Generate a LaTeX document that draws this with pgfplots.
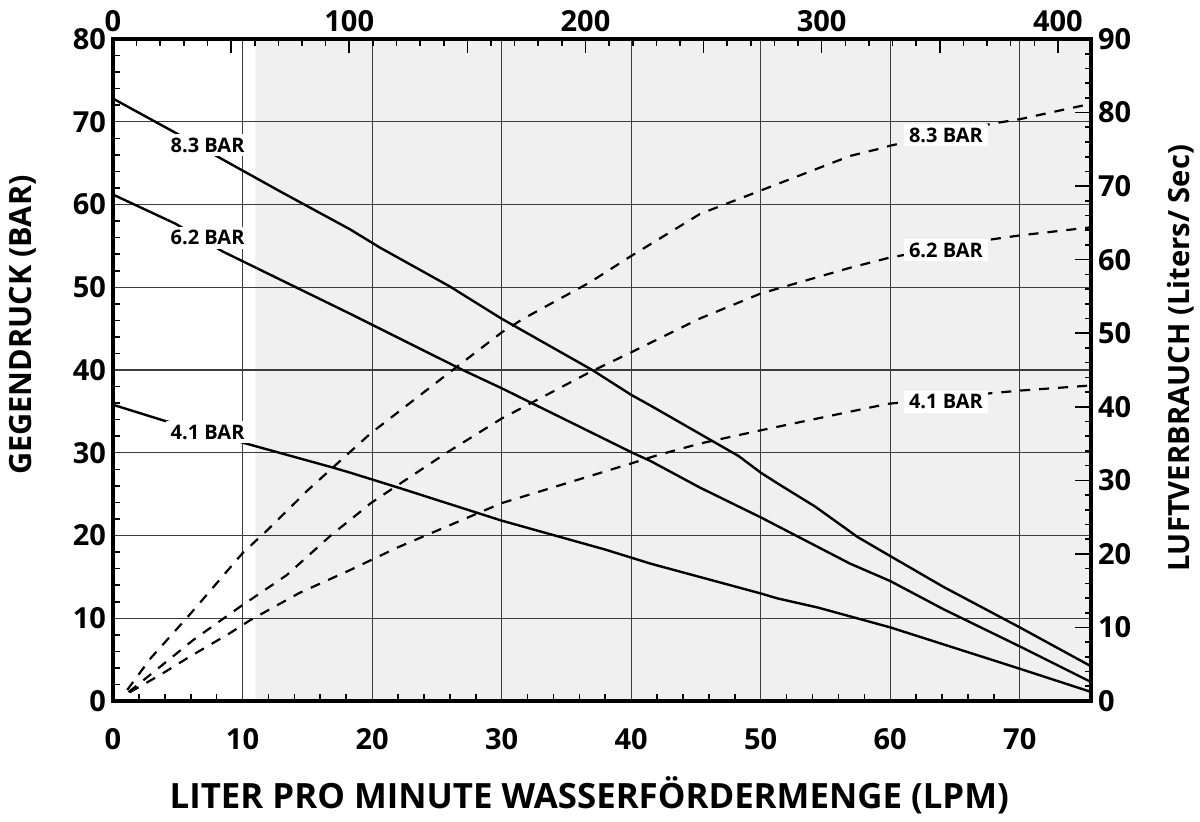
\documentclass[border=0pt]{standalone}
\usepackage{fontspec}
\setmainfont{Open Sans}
\usepackage{pgfplots}
\pgfplotsset{compat=1.18}
\definecolor{bgshade}{HTML}{F0F0F0}
\definecolor{gridc}{HTML}{3C3C3C}
\begin{document}
\begin{tikzpicture}
\tikzset{
  barlabel/.style={fill=white, inner xsep=2.5pt, inner ysep=1.8pt, font=\fontsize{10}{11}\selectfont\bfseries},
}
\pgfplotsset{
  set layers,
  every axis/.append style={
    scale only axis, width=489pt, height=331pt,
    axis line style={line width=1.8pt},
    tick style={black, line width=0.8pt},
    tick align=inside,
    tick label style={font=\fontsize{14.5}{16}\selectfont\bfseries\boldmath},
    /pgf/number format/assume math mode=true,
  },
  solid curve/.style={black, line width=1.2pt, no marks},
  air curve/.style={black, line width=1.1pt, no marks, dash pattern=on 5pt off 4.5pt},
}
% left axis: back pressure
\begin{axis}[
  name=main,
  xmin=0, xmax=75.5, ymin=0, ymax=80,
  xtick={0,10,...,70}, ytick={0,10,...,80},
  minor x tick num=4, minor y tick num=4,
  xtick pos=left, ytick pos=left,
  major tick length=0pt, minor tick length=3.5pt,
  grid=major, major grid style={gridc, line width=0.55pt},
  xticklabel style={yshift=-10pt},
  xlabel={LITER PRO MINUTE WASSERFÖRDERMENGE (LPM)},
  xlabel style={at={(axis description cs:0.487,-0.143)}, anchor=center, font=\fontsize{17.4}{19}\selectfont\bfseries},
  ylabel={GEGENDRUCK (BAR)},
  ylabel style={at={(axis description cs:-0.092,0.568)}, anchor=center, font=\fontsize{15.3}{17}\selectfont\bfseries},
]
\addplot[fill=bgshade, draw=none, on layer=axis background] coordinates {(11,0) (75.5,0) (75.5,80) (11,80) (11,0)};
% 8.3 bar
\addplot[solid curve] coordinates {(0,72.8) (4.9,68.6) (8.4,65.5) (13,61.5) (18.3,57.0) (20.6,54.8) (26,50.1) (30,46.2) (37,40) (40,37) (41.5,35.7) (48.3,29.6) (50,27.6) (51.3,26.3) (54.2,23.5) (57.5,19.8) (59.8,17.7) (64.1,13.8) (70,8.9) (75.5,4.2)};
% 6.2 bar
\addplot[solid curve] coordinates {(0,61.2) (4.8,57.7) (8.5,54.3) (18.3,46.8) (20.6,45.0) (27,40) (30,37.8) (40.1,30) (41.5,29.0) (45.3,25.8) (48.3,23.5) (50,22.2) (56.9,16.6) (60,14.5) (64.1,11.1) (70,6.6) (75.5,2.3)};
% 4.1 bar
\addplot[solid curve] coordinates {(0,35.8) (3.9,33.9) (10.3,31.1) (17,28.2) (18.3,27.6) (22.2,25.7) (30,21.8) (38,18.3) (41.5,16.6) (50,13.0) (51.3,12.4) (54.4,11.3) (60,8.9) (70,3.9) (75.5,1.1)};
\node[barlabel] at (axis cs:7.3,67.2) {8.3 BAR};
\node[barlabel] at (axis cs:7.3,56.0) {6.2 BAR};
\node[barlabel] at (axis cs:7.3,32.5) {4.1 BAR};
\end{axis}
% right axis: air consumption
\begin{axis}[
  xmin=0, xmax=75.5, ymin=0, ymax=90,
  axis x line=none, axis y line*=right,
  ytick={0,10,...,90}, minor y tick num=4,
  tick align=inside,
  major tick length=8pt, minor tick length=3pt,
  ylabel={LUFTVERBRAUCH (Liters/ Sec)},
  ylabel style={at={(axis description cs:1.092,0.518)}, anchor=center, font=\fontsize{14.6}{16}\selectfont\bfseries},
]
\addplot[air curve] coordinates {(1.1,1.5) (2.9,5.8) (5.9,11.7) (10,20.1) (11.9,23.2) (15,28.6) (18.2,33.7) (19.9,36.4) (26,44.7) (30,50.1) (31.7,52.0) (36.8,56.9) (40,60.5) (45.3,66.2) (46.9,67.3) (50,69.4) (56.9,74.1) (59.2,75.1) (60,75.5) (67.9,78.5) (70,79.1) (75.5,81.2)};
\addplot[air curve] coordinates {(1.2,1.2) (3.6,4.6) (6.2,8.3) (9.8,12.8) (13.4,17.1) (17,22.8) (18.3,24.6) (19.9,26.9) (21.6,28.9) (25.8,33.8) (30,38.4) (36.8,44.7) (40,47.4) (45.3,52.0) (50,55.4) (56.9,58.9) (60,60.3) (67.6,62.7) (70,63.3) (75.5,64.4)};
\addplot[air curve] coordinates {(1.3,1.2) (3.6,3.5) (5.9,6.0) (9,9.2) (10.6,11.0) (14.4,14.7) (18.3,17.8) (22,20.9) (30,26.9) (40,32.3) (42,33.4) (45.3,35.0) (50,36.8) (59.8,40.4) (67.5,41.8) (70,42.2) (75.5,42.9)};
\node[barlabel] at (axis cs:64.3,76.9) {8.3 BAR};
\node[barlabel] at (axis cs:64.3,61.3) {6.2 BAR};
\node[barlabel] at (axis cs:64.3,40.7) {4.1 BAR};
\end{axis}
% top axis
\begin{axis}[
  xmin=0, xmax=414, ymin=0, ymax=1,
  axis x line*=top, axis y line=none,
  xtick={0,50,...,400}, xticklabels={0,,100,,200,,300,,400},
  minor x tick num=4,
  tick align=inside,
  major tick length=7pt, minor tick length=3.5pt,
]
\end{axis}
\pgfresetboundingbox
\path ([shift={(-56.5pt,-60pt)}]main.south west) rectangle ([shift={(543.5pt,350.5pt)}]main.south west);
\end{tikzpicture}
\end{document}
